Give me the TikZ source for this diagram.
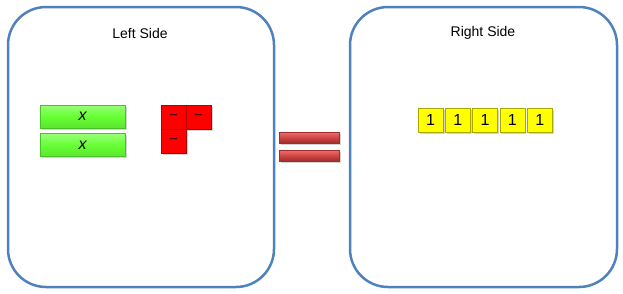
\documentclass[tikz,border=0pt]{standalone}
\usepackage{fontspec}
\setmainfont{Liberation Sans}
\usetikzlibrary{shadows}

\definecolor{boxblue}{HTML}{4F81BD}
\definecolor{xgreen}{HTML}{66FF33}
\definecolor{xgreenlight}{HTML}{99FF77}
\definecolor{xgreendark}{HTML}{4CC02A}
\definecolor{negred}{HTML}{FF0000}
\definecolor{negreddark}{HTML}{B00000}
\definecolor{unityellow}{HTML}{FFFF00}
\definecolor{unitdark}{HTML}{A8A800}
\definecolor{eqred}{HTML}{D04545}
\definecolor{eqlight}{HTML}{EE7070}
\definecolor{eqdark}{HTML}{A02C2C}

\tikzset{
    sidebox/.style={draw=boxblue, line width=2.5pt, rounded corners=38pt},
    tileshadow/.style={drop shadow={shadow xshift=1.5pt, shadow yshift=-1.5pt, opacity=0.35}},
    xtile/.style={tileshadow, draw=xgreendark, line width=0.6pt, top color=xgreenlight, bottom color=xgreen!90!black,
        middle color=xgreen, minimum width=85pt, minimum height=23pt, inner sep=0pt, font=\fontsize{16}{16}\selectfont\itshape},
    negtile/.style={tileshadow, draw=negreddark, line width=0.6pt, fill=negred, minimum width=25pt, minimum height=24pt,
        inner sep=0pt, font=\fontsize{13}{13}\selectfont},
    unittile/.style={tileshadow, draw=unitdark, line width=0.6pt, fill=unityellow, minimum width=25pt, minimum height=24pt,
        inner sep=0pt, font=\fontsize{16}{16}\selectfont},
    eqbar/.style={tileshadow, draw=eqdark, line width=0.6pt, top color=eqlight, bottom color=eqdark,
        middle color=eqred, minimum width=60pt, minimum height=11pt, inner sep=0pt},
    title/.style={font=\fontsize{14}{14}\selectfont}
}

\begin{document}
\begin{tikzpicture}[x=1pt, y=-1pt]

    \useasboundingbox (0,0) rectangle (623,293);

    % Sides
    \draw[sidebox] (8,7) rectangle (274,287);
    \draw[sidebox] (350,7) rectangle (617,287);

    % Labels
    \node[title] (lefttitle) at (140,33) {Left Side};
    \node[title] (righttitle) at (483,33) {Right Side};

    % Left side tiles
    \node[xtile] (x1) at (82.5,116.5) {x};
    \node[xtile] (x2) at (82.5,145) {x};
    \node[negtile] (n1) at (173.5,117) {--};
    \node[negtile] (n2) at (198.5,117) {--};
    \node[negtile] (n3) at (173.5,141) {--};

    % Equals sign
    \node[eqbar] (eqtop) at (309,137.5) {};
    \node[eqbar] (eqbottom) at (309,155.5) {};

    % Right side tiles
    \foreach \i in {0,...,4}
        \node[unittile] (u\i) at (430.5+27.3*\i,120) {1};

\end{tikzpicture}
\end{document}
